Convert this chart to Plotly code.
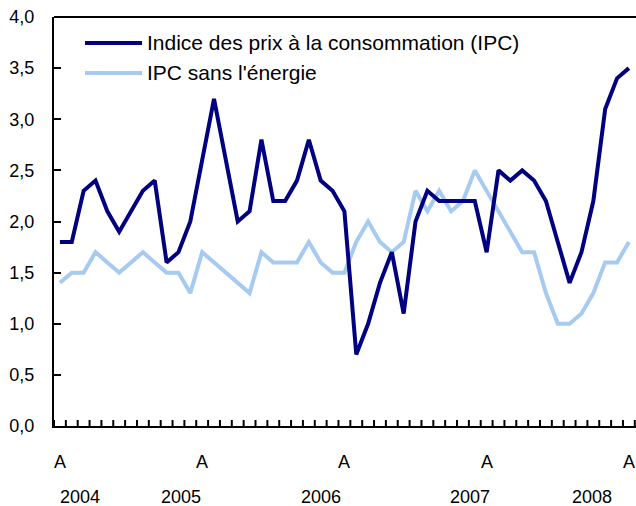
import plotly.graph_objects as go

# Monthly data, April 2004 -> April 2008 (49 months)
ipc = [1.8, 1.8, 2.3, 2.4, 2.1, 1.9, 2.1, 2.3, 2.4, 1.6,
       1.7, 2.0, 2.6, 3.2, 2.6, 2.0, 2.1, 2.8, 2.2, 2.2,
       2.4, 2.8, 2.4, 2.3, 2.1, 0.7, 1.0, 1.4, 1.7, 1.1,
       2.0, 2.3, 2.2, 2.2, 2.2, 2.2, 1.7, 2.5, 2.4, 2.5,
       2.4, 2.2, 1.8, 1.4, 1.7, 2.2, 3.1, 3.4, 3.5]
ipc_sans_energie = [1.4, 1.5, 1.5, 1.7, 1.6, 1.5, 1.6, 1.7, 1.6, 1.5,
                    1.5, 1.3, 1.7, 1.6, 1.5, 1.4, 1.3, 1.7, 1.6, 1.6,
                    1.6, 1.8, 1.6, 1.5, 1.5, 1.8, 2.0, 1.8, 1.7, 1.8,
                    2.3, 2.1, 2.3, 2.1, 2.2, 2.5, 2.3, 2.1, 1.9, 1.7,
                    1.7, 1.3, 1.0, 1.0, 1.1, 1.3, 1.6, 1.6, 1.8]
months = list(range(len(ipc)))
april_ticks = [0, 12, 24, 36, 48]
april_labels = ["A", "A", "A", "A", "A"]
years = ["2004", "2005", "2006", "2007", "2008"]
year_label_x = [1.7, 10.2, 22.0, 34.6, 44.9]

series_names = ["Indice des prix à la consommation (IPC)", "IPC sans l'énergie"]
dark = "#000080"
light = "#a6caf0"
FONT = "Liberation Sans, Arial, Helvetica, sans-serif"

fig = go.Figure()
fig.add_trace(go.Scatter(x=months, y=ipc_sans_energie, mode="lines",
                         line=dict(color=light, width=4), name=series_names[1],
                         showlegend=False, hoverinfo="skip"))
fig.add_trace(go.Scatter(x=months, y=ipc, mode="lines",
                         line=dict(color=dark, width=4), name=series_names[0],
                         showlegend=False, hoverinfo="skip"))

# Manual legend (long line samples)
leg_y = [43, 73]
plot_top, plot_bottom = 17, 426
plot_h = plot_bottom - plot_top
left, right_px = 54, 636
plot_w = right_px - left
def px_x(px):
    return (px - left) / plot_w
def px_y(py):
    return (plot_bottom - py) / plot_h

for name, col, py in zip(series_names, [dark, light], leg_y):
    fig.add_shape(type="line", xref="paper", yref="paper",
                  x0=px_x(85), x1=px_x(142), y0=px_y(py), y1=px_y(py),
                  line=dict(color=col, width=4))
    fig.add_annotation(xref="paper", yref="paper", x=px_x(145), y=px_y(py),
                       text=name, showarrow=False, xanchor="left", yanchor="middle",
                       font=dict(size=21, color="black", family=FONT))

# top frame line
fig.add_shape(type="line", xref="paper", yref="paper", x0=0, x1=1, y0=1, y1=1,
              line=dict(color="black", width=2))

# month-boundary tick marks on the x axis (pointing inward)
for i in range(len(months) + 1):
    fig.add_shape(type="line", xref="x", yref="paper",
                  x0=i - 0.5, x1=i - 0.5, y0=0, y1=6 / plot_h,
                  line=dict(color="black", width=2), layer="above")

# Month labels ("A" = avril) and year labels below the axis
for lab, xv in zip(april_labels, april_ticks):
    fig.add_annotation(xref="x", yref="paper", x=xv, y=px_y(462),
                       text=lab, showarrow=False, xanchor="center", yanchor="middle",
                       font=dict(size=18, color="black", family=FONT))
for yr, xv in zip(years, year_label_x):
    fig.add_annotation(xref="x", yref="paper", x=xv, y=px_y(497),
                       text=yr, showarrow=False, xanchor="center", yanchor="middle",
                       font=dict(size=18, color="black", family=FONT))

x_range = [-0.5, 48.6]
fig.update_layout(
    width=636, height=506,
    margin=dict(l=left, r=0, t=plot_top, b=506 - plot_bottom, pad=0, autoexpand=False),
    paper_bgcolor="white", plot_bgcolor="white",
    separators=", ",
    font=dict(family=FONT, size=18, color="black"),
    showlegend=False,
    xaxis=dict(
        range=x_range, showgrid=False, zeroline=False, automargin=False,
        showline=True, linecolor="black", linewidth=2, mirror=False,
        side="bottom", anchor="y", showticklabels=False, ticks="",
    ),
    yaxis=dict(
        range=[0, 4], dtick=0.5, tick0=0, tickformat=".1f",
        showgrid=False, zeroline=False, automargin=False,
        showline=True, linecolor="black", linewidth=2, mirror=False,
        ticks="inside", ticklen=7, tickwidth=2, tickcolor="black",
        ticklabelstandoff=14,
        tickfont=dict(size=18, color="black", family=FONT),
    ),
)

fig.write_html("out.html",
               config={"displayModeBar": False, "staticPlot": True},
               post_script="document.body.style.margin='0';document.body.style.overflow='hidden';")
